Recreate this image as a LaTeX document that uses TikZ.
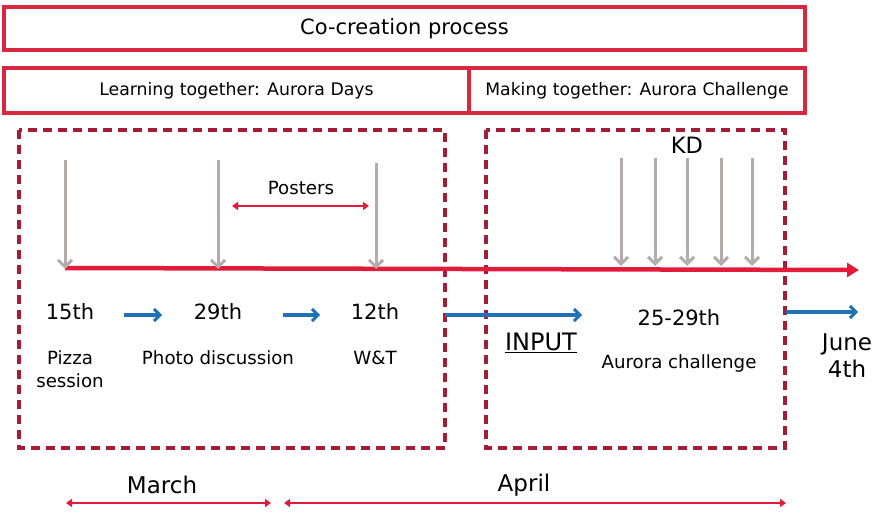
\documentclass[tikz,border=0pt]{standalone}
\usepackage{fontspec}
\setmainfont{DejaVu Sans}
\usetikzlibrary{arrows.meta}
\definecolor{hdrred}{HTML}{D8283F}
\definecolor{dashred}{HTML}{A51D32}
\definecolor{lineRed}{HTML}{E31B3A}
\definecolor{greyarr}{HTML}{B3ACA9}
\definecolor{bluearr}{HTML}{1F72B8}
\begin{document}
\begin{tikzpicture}[x=1pt,y=-1pt,
  hdr/.style={draw=hdrred,line width=3.1pt},
  dbox/.style={draw=dashred,line width=3.3pt,dash pattern=on 9pt off 6pt},
  greyline/.style={draw=greyarr,line width=3pt,-{Straight Barb[length=7pt,width=14pt,line width=3pt]}},
  blueline/.style={draw=bluearr,line width=3.2pt,-{Straight Barb[length=6pt,width=12pt,line width=3pt]}},
  redline/.style={draw=lineRed,line width=4.5pt,-{Triangle[length=12pt,width=14pt]}},
  thinred/.style={draw=lineRed,line width=1.9pt,{Triangle[length=6pt,width=8pt]}-{Triangle[length=6pt,width=8pt]}},
  dt/.style={font=\fontsize{21}{24}\selectfont,inner sep=0pt},
  sm/.style={font=\fontsize{18.2}{23}\selectfont,inner sep=0pt,align=center},
  nar/.style={inner sep=0pt}
]
\useasboundingbox (0,0) rectangle (885,521);
% header boxes
\draw[hdr] (4,7) rectangle (805,50);
\node[nar,font=\fontsize{21}{24}\selectfont] (title) at (404.5,28.5) {Co-creation process};
\draw[hdr] (4,68) rectangle (805,113);
\draw[hdr] (469,68) -- (469,113);
\node[nar,font=\fontsize{17.3}{20}\selectfont] (learn) at (236.5,91) {Learning together: Aurora Days};
\node[nar,font=\fontsize{17.2}{20}\selectfont] (make) at (637,91) {Making together: Aurora Challenge};
% dashed boxes
\draw[dbox] (19,130) rectangle (445,448);
\draw[dbox] (486,130) rectangle (785,448);
% timeline
\coordinate (tl0) at (65,268);
\coordinate (tl1) at (859,270);
\draw[redline] (tl0) -- (tl1);
% grey arrows
\foreach \x/\y/\n in {65/160/a,218/160/b,376/163/c} {
  \coordinate (g\n s) at (\x,\y);
  \coordinate (g\n e) at (\x,269);
  \draw[greyline] (g\n s) -- (g\n e);
}
\foreach \x/\n in {621/d,655/e,687/f,721/g,752/h} {
  \coordinate (g\n s) at (\x,158);
  \coordinate (g\n e) at (\x,266);
  \draw[greyline] (g\n s) -- (g\n e);
}
\node[inner sep=0pt,font=\fontsize{22.5}{26}\selectfont] (kd) at (687,145) {KD};
% posters
\node[sm] (posters) at (301,188) {Posters};
\coordinate (p0) at (232,206);
\coordinate (p1) at (369,206);
\draw[thinred] (p0) -- (p1);
% dates
\node[dt] (d15) at (70,312) {15th};
\node[dt] (d29) at (218,312) {29th};
\node[dt] (d12) at (375,312) {12th};
\node[dt] (d25) at (679,318) {25-29th};
\node[sm] (pizza) at (70,369) {Pizza\\session};
\node[sm] (photo) at (218,358) {Photo discussion};
\node[sm] (wt) at (375,358) {W\&T};
\node[sm] (aur) at (679,363) {Aurora challenge};
\node[inner sep=0pt,font=\fontsize{24}{28}\selectfont] (input) at (541,343) {\underline{INPUT}};
\node[inner sep=0pt,align=center,font=\fontsize{23}{27}\selectfont] (june) at (847,356) {June\\4th};
% blue arrows
\coordinate (b1s) at (124,315); \coordinate (b1e) at (162,315);
\coordinate (b2s) at (283,315); \coordinate (b2e) at (320,315);
\coordinate (b3s) at (445,315); \coordinate (b3e) at (582,315);
\coordinate (b4s) at (786,312); \coordinate (b4e) at (858,312);
\draw[blueline] (b1s) -- (b1e);
\draw[blueline] (b2s) -- (b2e);
\draw[blueline] (b3s) -- (b3e);
\draw[blueline] (b4s) -- (b4e);
% months
\node[nar,font=\fontsize{23}{26}\selectfont] (march) at (162,485) {March};
\node[nar,font=\fontsize{23}{26}\selectfont] (april) at (524,485) {April};
\coordinate (m0) at (66,503); \coordinate (m1) at (271,503);
\coordinate (a0) at (284,503); \coordinate (a1) at (786,503);
\draw[thinred] (m0) -- (m1);
\draw[thinred] (a0) -- (a1);
\end{tikzpicture}
\end{document}
